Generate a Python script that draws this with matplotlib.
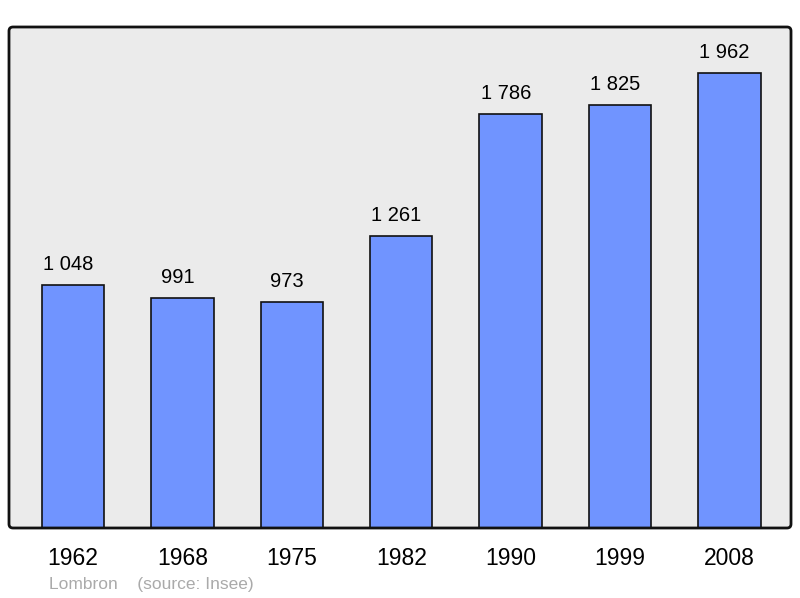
import matplotlib.pyplot as plt
from matplotlib.patches import FancyBboxPatch

years = ["1962", "1968", "1975", "1982", "1990", "1999", "2008"]
population = [1048, 991, 973, 1261, 1786, 1825, 1962]
value_labels = ["1 048", "991", "973", "1 261", "1 786", "1 825", "1 962"]

fig = plt.figure(figsize=(8, 5.98), dpi=100)

# frame in pixel coords (y measured from bottom)
x0, x1 = 9, 791
y0, y1 = 598 - 528, 598 - 27
bg = FancyBboxPatch((x0, y0), x1 - x0, y1 - y0, boxstyle="round,pad=0,rounding_size=4",
                    transform=None, facecolor="#ebebeb", edgecolor="none", zorder=-1)
border = FancyBboxPatch((x0, y0), x1 - x0, y1 - y0, boxstyle="round,pad=0,rounding_size=4",
                        transform=None, facecolor="none", edgecolor="#111111", linewidth=2, zorder=5)
fig.patches.append(bg)

ax = fig.add_axes([x0 / 800, y0 / 598, (x1 - x0) / 800, (y1 - y0) / 598])
ax.patch.set_visible(False)
for s in ax.spines.values():
    s.set_visible(False)

xs = list(range(len(years)))
ax.bar(xs, population, width=0.57, color="#7094ff", edgecolor="#111111", linewidth=1.2, zorder=2)
for x, v, lab in zip(xs, population, value_labels):
    ax.text(x - 0.045, v + 88, lab, ha="center", va="center", fontsize=14.5, family="Liberation Sans")

ax.set_xlim(-0.584, 6.562)
ax.set_ylim(0, 2160)
ax.set_xticks(xs)
ax.set_xticklabels(years, fontsize=16.5, family="Liberation Sans")
ax.tick_params(axis="x", length=0, pad=14)
ax.set_yticks([])

fig.patches.append(border)

fig.text(49 / 800, 1 - 584 / 598, "Lombron    (source: Insee)", fontsize=12.5, color="#aaaaaa",
         va="center", ha="left", family="Liberation Sans")

fig.savefig("out.png", dpi=100)
